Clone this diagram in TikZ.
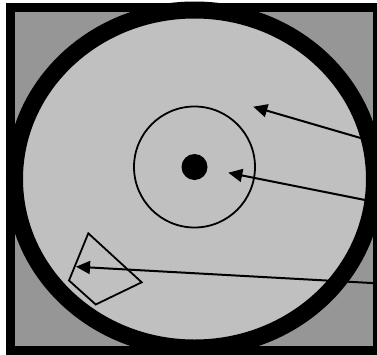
\documentclass[tikz,border=0pt]{standalone}
\usetikzlibrary{arrows.meta}
\definecolor{casegray}{RGB}{150,150,150}
\definecolor{diskgray}{RGB}{192,192,192}
\tikzset{
  pointer/.style={-{Triangle[length=14pt,width=13pt]}, line width=2pt},
  thinline/.style={line width=1.8pt},
}
\begin{document}
\begin{tikzpicture}[x=1pt,y=-1pt]
\useasboundingbox (0,0) rectangle (377,354);
% case and disk
\draw[fill=casegray, line width=9pt] (10.5,7.5) rectangle (377.5,350.5);
\coordinate (diskc) at (194.5,179);
\draw[fill=diskgray, line width=17pt] (diskc) ellipse [x radius=180pt, y radius=169pt];
% hub and spindle
\coordinate (hubc) at (194.5,167);
\draw[thinline] (hubc) circle (60.5pt);
\fill (hubc) circle (13pt);
% marker
\draw[thinline] (88.3,233.3) -- (69,280.5) -- (95.7,304.5) -- (141.7,282.3) -- cycle;
% pointers
\coordinate (a1) at (377,142.8);
\coordinate (t1) at (253.3,106.7);
\coordinate (a2) at (377,202.4);
\coordinate (t2) at (228.3,172.7);
\coordinate (a3) at (377,283.3);
\coordinate (t3) at (76,266.7);
\draw[pointer] (a1) -- (t1);
\draw[pointer] (a2) -- (t2);
\draw[pointer] (a3) -- (t3);
\end{tikzpicture}
\end{document}
